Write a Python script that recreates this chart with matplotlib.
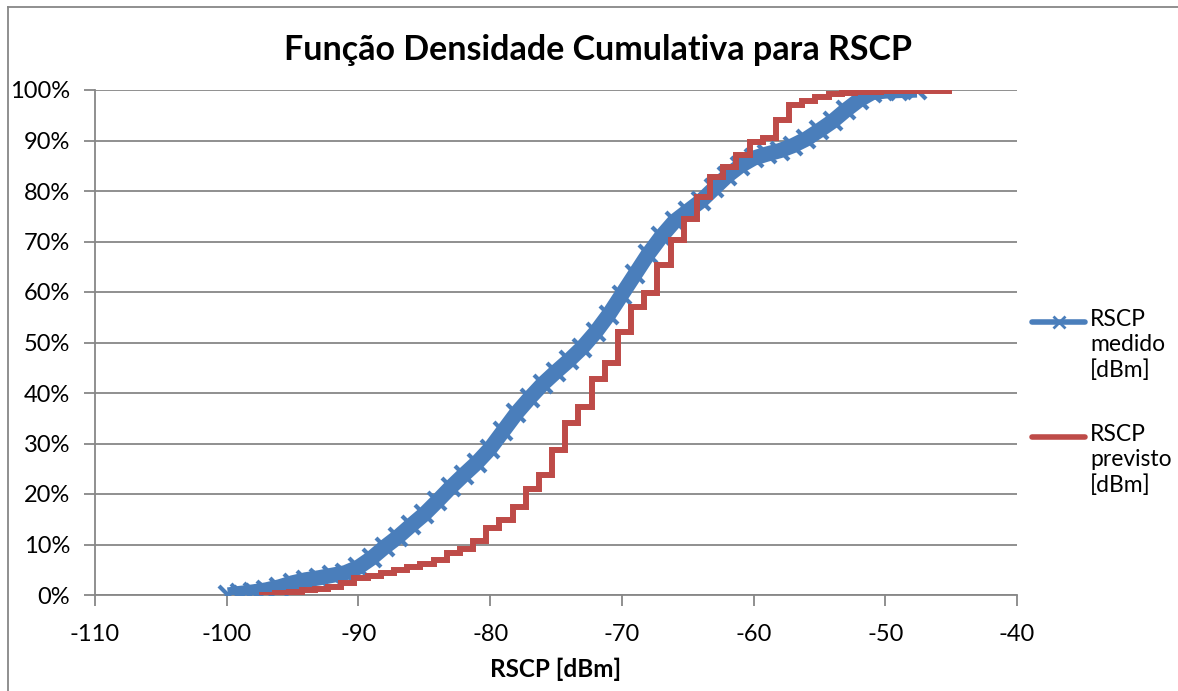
import matplotlib
matplotlib.use('Agg')
import matplotlib.pyplot as plt
from matplotlib.lines import Line2D
from matplotlib.ticker import PercentFormatter

plt.rcParams['font.family'] = ['Lato', 'DejaVu Sans']
plt.rcParams['axes.unicode_minus'] = False

# measured RSCP, cumulative distribution (dBm, %)
medido_rscp = [-99.9, -99.0, -98.0, -97.0, -96.0, -95.0, -94.0, -93.0, -92.0, -91.0,
               -90.0, -89.0, -88.0, -87.0, -86.0, -85.0, -84.0, -83.0, -82.0, -81.0,
               -80.0, -79.0, -78.0, -77.0, -76.0, -75.0, -74.0, -73.0, -72.0, -71.0,
               -70.0, -69.0, -68.0, -67.0, -66.0, -65.0, -64.0, -63.0, -62.0, -61.0,
               -60.0, -59.0, -58.0, -57.0, -56.0, -55.0, -54.0, -53.0, -52.0, -51.0,
               -50.0, -49.0, -47.6]
medido_cdf = [0.0, 0.3, 0.6, 1.0, 1.6, 2.4, 3.0, 3.4, 3.9, 4.4,
              5.5, 7.3, 9.5, 11.5, 13.8, 16.0, 18.6, 21.3, 23.8, 26.2,
              29.0, 32.5, 36.0, 39.0, 41.8, 44.2, 46.5, 49.0, 52.0, 55.5,
              59.5, 63.5, 67.5, 71.0, 74.0, 76.0, 78.0, 80.5, 83.0, 85.0,
              86.5, 87.3, 88.0, 89.0, 90.3, 92.0, 93.8, 96.0, 98.0, 99.5,
              99.8, 99.9, 100.0]

# predicted RSCP, cumulative distribution in 1 dB bins (dBm, %)
previsto_rscp = [-97.3, -96.3, -95.3, -94.3, -93.3, -92.3, -91.3, -90.3, -89.3, -88.3,
                 -87.3, -86.3, -85.3, -84.3, -83.3, -82.3, -81.3, -80.3, -79.3, -78.3,
                 -77.3, -76.3, -75.3, -74.3, -73.3, -72.3, -71.3, -70.3, -69.3, -68.3,
                 -67.3, -66.3, -65.3, -64.3, -63.3, -62.3, -61.3, -60.3, -59.3, -58.3,
                 -57.3, -56.3, -55.3, -54.3, -53.3, -52.3, -51.3, -50.3, -48.3, -45.2]
previsto_cdf = [0.0, 0.3, 0.6, 0.9, 1.2, 1.6, 2.3, 3.3, 3.8, 4.4,
                5.0, 5.6, 6.1, 6.9, 8.3, 9.2, 10.7, 13.2, 14.9, 17.5,
                20.9, 23.7, 28.8, 34.0, 37.3, 42.8, 46.0, 52.1, 57.1, 59.9,
                65.3, 70.3, 74.4, 78.9, 82.8, 84.7, 87.1, 89.8, 90.4, 94.1,
                97.0, 97.9, 98.7, 99.2, 99.4, 99.6, 99.7, 99.8, 99.9, 100.0]

x_ticks = [-110, -100, -90, -80, -70, -60, -50, -40]
y_ticks = [0, 10, 20, 30, 40, 50, 60, 70, 80, 90, 100]

blue = '#4A7EBB'
red = '#BE4B48'
gray = '#878787'

W, H = 1178, 691
fig = plt.figure(figsize=(W / 100, H / 100), dpi=100)
ax = fig.add_axes([95 / W, 1 - 595 / H, 922 / W, 505 / H])

ax.plot(medido_rscp, medido_cdf, color=blue, lw=11, marker='x', ms=13, mew=3,
        solid_capstyle='butt', zorder=3)
ax.plot(previsto_rscp, previsto_cdf, color=red, lw=4.3, drawstyle='steps-post',
        solid_joinstyle='miter', zorder=4)

ax.set_xlim(-110, -40)
ax.set_ylim(0, 100)
ax.set_xticks(x_ticks)
ax.set_yticks(y_ticks)
ax.yaxis.set_major_formatter(PercentFormatter(100, decimals=0))

ax.yaxis.grid(True, color=gray, lw=1.3)
ax.set_axisbelow(True)
for side in ['top', 'right']:
    ax.spines[side].set_visible(False)
for side in ['left', 'bottom']:
    ax.spines[side].set_color(gray)
    ax.spines[side].set_linewidth(1.3)
ax.tick_params(axis='both', direction='out', length=8, width=1.3, color=gray,
               labelsize=17, labelcolor='black')
ax.tick_params(axis='y', pad=10)
ax.tick_params(axis='x', pad=13)

ax.set_xlabel('RSCP [dBm]', fontsize=17.5, fontweight='bold', labelpad=9)
fig.text(0.508, 0.927, 'Função Densidade Cumulativa para RSCP', fontsize=24.5,
         fontweight='bold', ha='center', va='center')

# legend entries to the right of the plot area, key level with the first text line
entries = [
    (Line2D([1032 / W, 1085 / W], [1 - 322 / H] * 2, color=blue, lw=4,
            solid_capstyle='round', transform=fig.transFigure),
     'RSCP\nmedido\n[dBm]', 322),
    (Line2D([1032 / W, 1085 / W], [1 - 437 / H] * 2, color=red, lw=4,
            solid_capstyle='round', transform=fig.transFigure),
     'RSCP\nprevisto\n[dBm]', 437),
]
for key, label, y_px in entries:
    fig.add_artist(key)
    fig.text(1090 / W, 1 - (y_px - 13) / H, label, fontsize=16.5,
             linespacing=1.25, ha='left', va='top')
fig.add_artist(Line2D([1058.5 / W], [1 - 322 / H], marker='x', ms=9, mew=2,
                      color=blue, transform=fig.transFigure))

# chart border
fig.add_artist(Line2D([8 / W, 8 / W], [0, 1 - 7 / H],
                      transform=fig.transFigure, color=gray, lw=1.3))
fig.add_artist(Line2D([8 / W, 1], [1 - 7 / H, 1 - 7 / H],
                      transform=fig.transFigure, color=gray, lw=1.3))

fig.savefig('out.png', dpi=100)
